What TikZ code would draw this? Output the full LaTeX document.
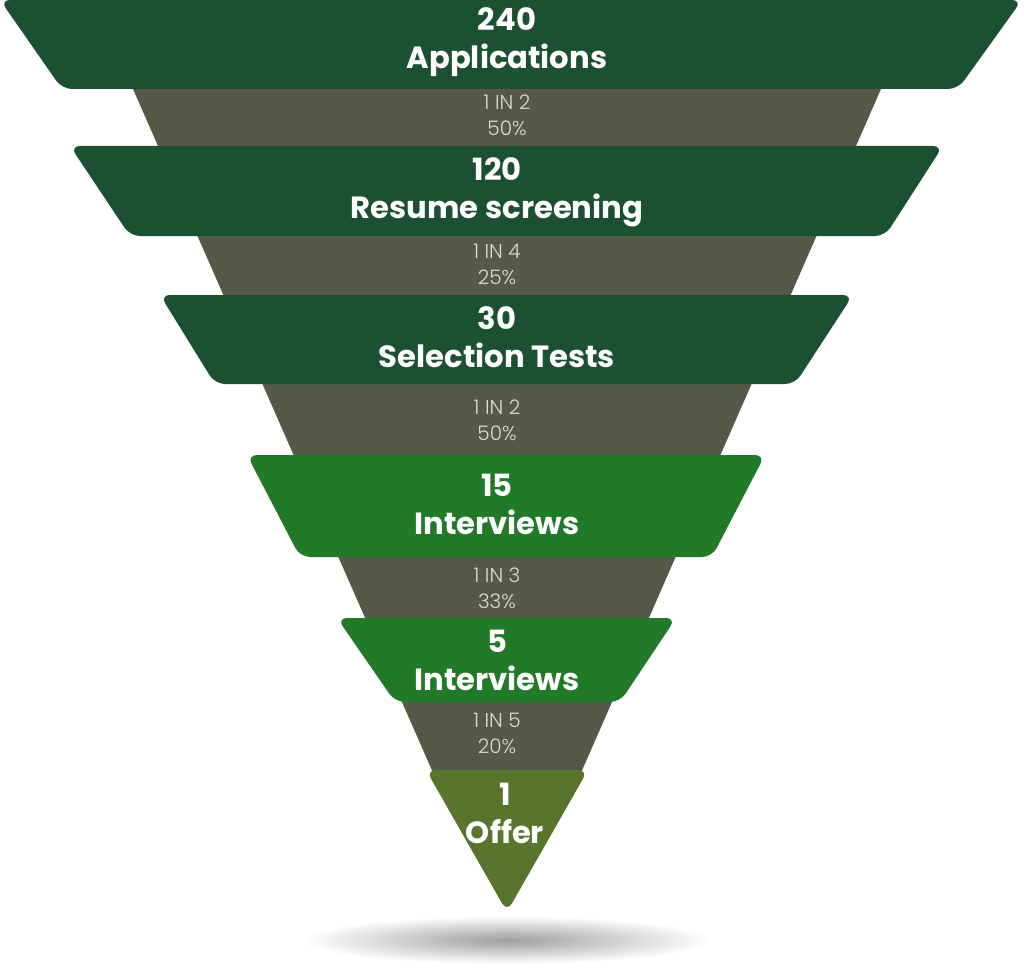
\documentclass[tikz,border=0pt]{standalone}
\usepackage{fontspec}
\setmainfont{Poppins}
\newfontfamily\lightfont{Poppins}[UprightFont=* Light]
\usepackage{tikz}
\definecolor{darkgreen}{HTML}{1B5130}
\definecolor{midgreen}{HTML}{217A27}
\definecolor{olivegreen}{HTML}{58752E}
\definecolor{funnelgray}{HTML}{555A46}
\definecolor{ratiogray}{HTML}{DADAD2}
\tikzset{
    stage/.style={rounded corners=7.5pt},
    stagetext/.style={text=white, align=center, font=\fontsize{23}{28.5}\selectfont\bfseries},
    ratiotext/.style={text=ratiogray, align=center, font=\lightfont\fontsize{15}{19.5}\selectfont}
}
\begin{document}
\begin{tikzpicture}[x=0.75pt,y=-0.75pt]
    \useasboundingbox (0,0) rectangle (1024,970);

    % Shadow
    \shade[inner color=black!38, outer color=white] (507,940) ellipse (205 and 24);

    % Gray funnel behind the stages
    \fill[funnelgray] (133,89) -- (881,89) -- (580,775) -- (434,775) -- cycle;

    % Stages
    \fill[darkgreen, stage] (0,0) -- (1022,0) -- (958,89) -- (62,89) -- cycle;
    \fill[darkgreen, stage] (70,146) -- (943,146) -- (885,236) -- (130,236) -- cycle;
    \fill[darkgreen, stage] (160,295) -- (853,295) -- (795,384) -- (215,384) -- cycle;
    \fill[midgreen, stage] (247,455) -- (765,455) -- (712,557) -- (300,557) -- cycle;
    \fill[midgreen, stage] (337,618) -- (676,618) -- (620,702) -- (395,702) -- cycle;
    \fill[olivegreen, stage] (426,770) -- (588,770) -- (507,912) -- cycle;

    % Stage labels
    \node[stagetext] (applications) at (507,42) {240\\Applications};
    \node[stagetext] (screening) at (497,192) {120\\Resume screening};
    \node[stagetext] (tests) at (497,337) {30\\Selection Tests};
    \node[stagetext] (interviews) at (497,504) {15\\Interviews};
    \node[stagetext] (finalists) at (497,660) {5\\Interviews};
    \node[stagetext] (offer) at (505,813) {1\\Offer};

    % Ratios between stages
    \node[ratiotext] (ratioa) at (507,115) {1 IN 2\\50\%};
    \node[ratiotext] (ratiob) at (497,264) {1 IN 4\\25\%};
    \node[ratiotext] (ratioc) at (497,420) {1 IN 2\\50\%};
    \node[ratiotext] (ratiod) at (497,588) {1 IN 3\\33\%};
    \node[ratiotext] (ratioe) at (497,733) {1 IN 5\\20\%};
\end{tikzpicture}
\end{document}
